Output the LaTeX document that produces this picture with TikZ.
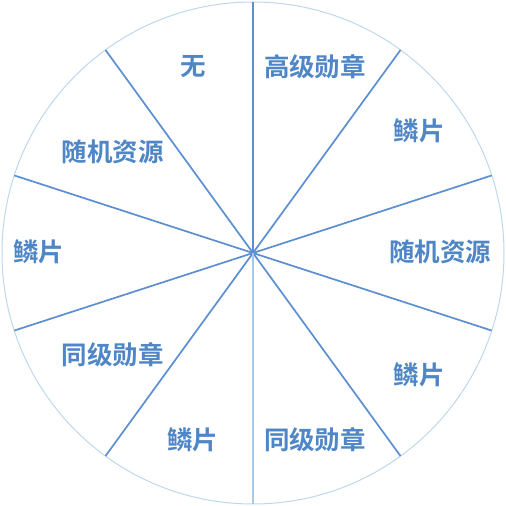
\documentclass[tikz,border=0pt]{standalone}
\usepackage{fontspec}
\newfontfamily\cjk{Noto Sans CJK SC Bold}
\definecolor{spoke}{HTML}{5B8FD2}
\definecolor{rim}{HTML}{BDD7EE}
\definecolor{txt}{HTML}{4F86C6}
\begin{document}
\begin{tikzpicture}[x=1pt,y=1pt,
  lbl/.style={font=\cjk\fontsize{25.5}{26}\selectfont, text=txt, inner sep=0pt},
  spk/.style={draw=spoke, line width=1.7pt}]
\useasboundingbox (-253,-253) rectangle (253,253);
\coordinate (c) at (0,0);
\draw[rim, line width=1pt] (c) circle (251);
\foreach \a in {18,54,90,126,162,198,234,306,342} {
  \coordinate (e\a) at (\a:251);
  \draw[spk] (c) -- (e\a);
}
\coordinate (e270) at (270:251);
\draw[draw=rim!80!spoke, line width=1.7pt] (c) -- (e270);
\node[lbl] (l1) at (-60,186) {无};
\node[lbl] (l2) at (62,186) {高级勋章};
\node[lbl] (l3) at (166,122) {鳞片};
\node[lbl] (l4) at (187,1) {随机资源};
\node[lbl] (l5) at (166,-122) {鳞片};
\node[lbl] (l6) at (62,-187) {同级勋章};
\node[lbl] (l7) at (-60,-187) {鳞片};
\node[lbl] (l8) at (-140,-102) {同级勋章};
\node[lbl] (l9) at (-214,1) {鳞片};
\node[lbl] (l10) at (-140,101) {随机资源};
\end{tikzpicture}
\end{document}
